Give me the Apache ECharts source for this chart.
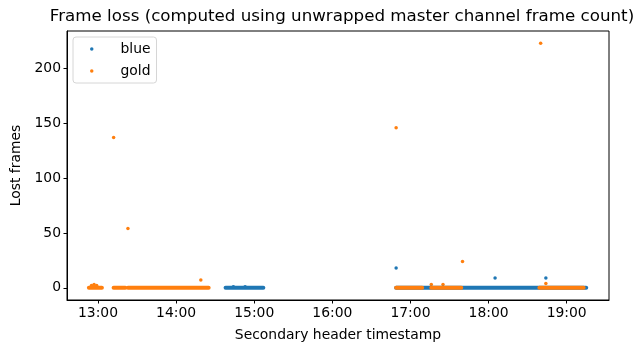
<!DOCTYPE html>
<html>
<head>
<meta charset="utf-8">
<script src="https://cdn.jsdelivr.net/npm/echarts@6/dist/echarts.min.js"></script>
<style>
  html, body { margin: 0; padding: 0; background: #fff; }
  #chart { width: 638px; height: 353px; }
</style>
</head>
<body>
<div id="chart"></div>
<script>
// dense runs of zero-loss frames, [start, end] as HH:MM
var blueRuns = [['14:38', '15:07'], ['16:49', '19:15']];
var orangeRuns = [['12:53', '13:03'], ['13:12', '13:21'], ['13:23', '14:25'],
                  ['16:49', '17:09'], ['17:16', '17:39'], ['18:39', '19:13']];

// single points off the baseline, [time, lost frames]
var bluePoints = [['14:44', 1], ['14:53', 1], ['16:49', 18], ['18:05', 9], ['18:44', 9]];
var orangePoints = [['12:55', 2], ['12:57', 3], ['12:59', 2], ['13:12', 137], ['13:23', 54],
                    ['14:19', 7], ['16:49', 146], ['17:16', 3], ['17:25', 3],
                    ['17:40', 24], ['18:40', 223], ['18:44', 4]];

var hourTicks = ['13:00', '14:00', '15:00', '16:00', '17:00', '18:00', '19:00'];
var yTicks = [0, 50, 100, 150, 200];

var BLUE = '#1f77b4', ORANGE = '#ff7f0e';
var FONT = 'DejaVu Sans';

function toMin(s) {
  var p = s.split(':');
  return +p[0] * 60 + +p[1];
}
function fmt(v) {
  var h = Math.floor(v / 60), m = Math.round(v - h * 60);
  return h + ':' + (m < 10 ? '0' : '') + m;
}

var series = [];
function addRuns(name, color, runs) {
  runs.forEach(function (r) {
    series.push({
      name: name, type: 'line', symbol: 'none', silent: true,
      itemStyle: { color: color },
      lineStyle: { color: color, width: 4, cap: 'round' },
      data: [[toMin(r[0]), 0], [toMin(r[1]), 0]]
    });
  });
}
function addPoints(name, color, pts) {
  series.push({
    name: name, type: 'scatter', symbol: 'circle', symbolSize: 3.5,
    itemStyle: { color: color, opacity: 1 },
    data: pts.map(function (p) { return [toMin(p[0]), p[1]]; })
  });
}
addRuns('blue', BLUE, blueRuns);
addPoints('blue', BLUE, bluePoints);
addRuns('gold', ORANGE, orangeRuns);
addPoints('gold', ORANGE, orangePoints);

var chart = echarts.init(document.getElementById('chart'));
chart.setOption({
  animation: false,
  backgroundColor: '#fff',
  title: {
    text: 'Frame loss (computed using unwrapped master channel frame count)',
    left: 337, textAlign: 'center', top: 3,
    textStyle: { fontFamily: FONT, fontSize: 16.7, fontWeight: 'normal', color: '#000' }
  },
  legend: {
    orient: 'vertical', left: 73, top: 37,
    data: [{ name: 'blue', icon: 'circle' }, { name: 'gold', icon: 'circle' }],
    itemWidth: 3.5, itemHeight: 3.5, itemGap: 8,
    padding: [5, 6, 5, 17],
    borderColor: '#d6d6d6', borderWidth: 1, borderRadius: 3,
    textStyle: { fontFamily: FONT, fontSize: 13.9, color: '#000', padding: [0, 0, 0, 22] },
    selectedMode: false
  },
  grid: {
    left: 67, right: 29, top: 31, bottom: 53,
    show: true, borderColor: '#000', borderWidth: 1
  },
  xAxis: {
    type: 'value', min: 756.2, max: 1172.5,
    name: 'Secondary header timestamp', nameLocation: 'middle', nameGap: 28,
    nameTextStyle: { fontFamily: FONT, fontSize: 13.9, color: '#000' },
    axisLine: { onZero: false, lineStyle: { color: '#000', width: 1 } },
    axisTick: { show: true, length: 3.5, lineStyle: { color: '#000' }, customValues: hourTicks.map(toMin) },
    axisLabel: { fontFamily: FONT, fontSize: 13.9, color: '#000', margin: 6,
                 customValues: hourTicks.map(toMin), formatter: fmt },
    splitLine: { show: false }
  },
  yAxis: {
    type: 'value', min: -11.15, max: 234.15,
    name: 'Lost frames', nameLocation: 'middle', nameGap: 43,
    nameTextStyle: { fontFamily: FONT, fontSize: 13.9, color: '#000' },
    axisLine: { show: true, onZero: false, lineStyle: { color: '#000', width: 1 } },
    axisTick: { show: true, length: 3.5, lineStyle: { color: '#000' }, customValues: yTicks },
    axisLabel: { fontFamily: FONT, fontSize: 13.9, color: '#000', margin: 6, customValues: yTicks },
    splitLine: { show: false }
  },
  series: series
});
</script>
</body>
</html>
